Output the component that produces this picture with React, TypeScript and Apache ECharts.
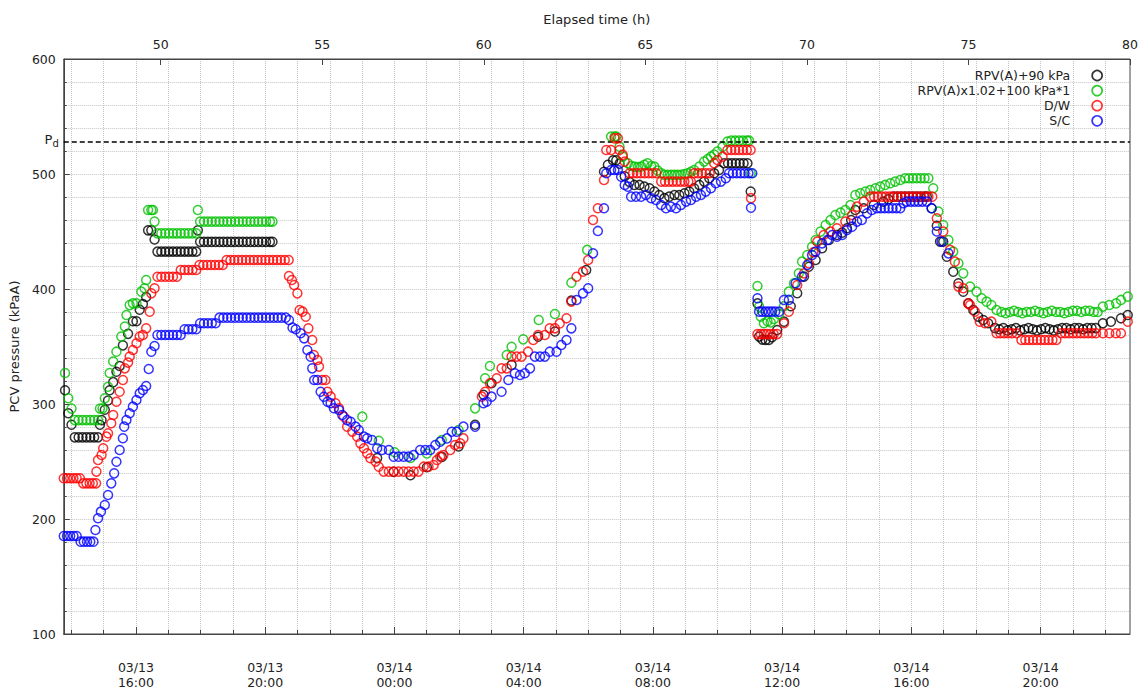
import React, { useEffect, useRef } from "react";
import * as echarts from "echarts";

// ---------- axis / label data ----------
const elapsedTicks = [50, 55, 60, 65, 70, 75, 80];
// clock hours counted from 03/13 00:00; elapsed 0 h = 03/11 14:46
const clockOffset = 33.2333;
const clockMajor = [16, 20, 24, 28, 32, 36, 40, 44];
const clockMinor = [14, 15, 16, 17, 18, 19, 20, 21, 22, 23, 24, 25, 26, 27, 28, 29, 30, 31, 32, 33, 34, 35, 36, 37, 38, 39, 40, 41, 42, 43, 44, 45, 46];
const clockDates = ["03/13", "03/13", "03/14", "03/14", "03/14", "03/14", "03/14", "03/14"];
const clockTimes = ["16:00", "20:00", "00:00", "04:00", "08:00", "12:00", "16:00", "20:00"];
const designPressure = 528;

const seriesNames = ["RPV(A)+90 kPa", "RPV(A)x1.02+100 kPa*1", "D/W", "S/C"];
const seriesColors = ["#000000", "#00c000", "#ff0000", "#0000ff"];

// ---------- series values: [elapsed h, kPaA] ----------
const rpvPlus90: number[][] = [
  [47.04, 312], [47.14, 292], [47.24, 282],
  [47.34, 271], [47.46, 271], [47.58, 271], [47.7, 271], [47.82, 271], [47.94, 271], [48.06, 271],
  [48.12, 282], [48.17, 286], [48.27, 295], [48.37, 303], [48.42, 312], [48.53, 319], [48.63, 328], [48.73, 333],
  [48.83, 351], [48.99, 361], [49.14, 372], [49.25, 372], [49.35, 382], [49.45, 387], [49.55, 393],
  [49.61, 451], [49.71, 451], [49.81, 443],
  [49.9, 432.5], [50.02, 432.5], [50.14, 432.5], [50.26, 432.5], [50.38, 432.5], [50.5, 432.5], [50.62, 432.5],
  [50.74, 432.5], [50.86, 432.5], [50.98, 432.5], [51.1, 432.5],
  [51.15, 451],
  [51.22, 441], [51.34, 441], [51.46, 441], [51.58, 441], [51.7, 441], [51.82, 441], [51.94, 441], [52.06, 441],
  [52.18, 441], [52.3, 441], [52.42, 441], [52.54, 441], [52.66, 441], [52.78, 441], [52.9, 441], [53.02, 441],
  [53.14, 441], [53.26, 441], [53.38, 441], [53.46, 441],
  [56.7, 253], [57.21, 241], [57.73, 238], [58.24, 245], [58.7, 254], [59.22, 263], [59.73, 282], [59.99, 308],
  [60.24, 318], [60.86, 334], [61.68, 358.5], [62.2, 363], [62.71, 390], [63.17, 416.5],
  [63.72, 502], [63.84, 508], [64.0, 512], [64.1, 512], [64.2, 509], [64.36, 498], [64.51, 493], [64.66, 490.5],
  [64.82, 490.5], [64.97, 489], [65.13, 487.6], [65.28, 484.7], [65.43, 481.8], [65.59, 479], [65.74, 480.3],
  [65.9, 481.8], [66.05, 481.8], [66.21, 483.2], [66.36, 484.7], [66.51, 487.6], [66.67, 490.5], [66.82, 493.4],
  [66.98, 496.3], [67.13, 500.6], [67.28, 503.5], [67.44, 509.3], [67.56, 509.3], [67.68, 509.3], [67.8, 509.3],
  [67.92, 509.3], [68.04, 509.3], [68.16, 509.3], [68.26, 484.7],
  [68.47, 387.5], [68.52, 358.6], [68.62, 356], [68.72, 355.7], [68.82, 355.7], [68.92, 358], [69.08, 364.4],
  [69.29, 371.6], [69.5, 385], [69.7, 396.3], [69.91, 410.8], [70.06, 419.4], [70.27, 425.2], [70.47, 435.4],
  [70.68, 442.6], [70.93, 447], [71.09, 449], [71.24, 452.8], [71.37, 460], [71.5, 468.7], [71.76, 470.2],
  [72.07, 473.1], [72.37, 476], [72.52, 478], [72.68, 480.3], [72.8, 480.3], [72.92, 480.3], [73.04, 480.3],
  [73.16, 480.3], [73.28, 480.3], [73.4, 480.3], [73.52, 480.3], [73.64, 480.3], [73.71, 480.3], [73.86, 470.2],
  [74.02, 455], [74.12, 441.2], [74.22, 441.2], [74.33, 428.1], [74.53, 415.1], [74.69, 405], [74.84, 397.7],
  [75.0, 387.5], [75.15, 381.8], [75.3, 376], [75.46, 373.1], [75.61, 370.2],
  [75.82, 366], [75.95, 365], [76.08, 366], [76.21, 364], [76.34, 365], [76.47, 366], [76.6, 364], [76.73, 365],
  [76.86, 366], [76.99, 365], [77.12, 364], [77.25, 365], [77.38, 366], [77.51, 365], [77.64, 364], [77.77, 365],
  [77.9, 366], [78.03, 366], [78.16, 365], [78.29, 366], [78.42, 366], [78.55, 365], [78.68, 366], [78.81, 366],
  [78.94, 366], [79.16, 370.2], [79.41, 371.6], [79.72, 374.5], [79.93, 377.4],
];

const rpvScaled: number[][] = [
  [47.04, 327], [47.14, 305], [47.24, 296],
  [47.34, 286], [47.46, 286], [47.58, 286], [47.7, 286], [47.82, 286], [47.94, 286], [48.06, 286],
  [48.12, 296], [48.2, 296], [48.27, 305], [48.37, 315], [48.42, 327], [48.53, 337], [48.63, 345.5], [48.78, 358.6],
  [48.89, 367.3], [48.94, 377.4], [49.04, 386], [49.14, 387.5], [49.25, 387.5], [49.4, 397.7], [49.5, 400.6],
  [49.55, 407.8], [49.61, 468.7], [49.71, 468.7], [49.76, 468.7], [49.81, 458.6],
  [49.9, 448.4], [50.02, 448.4], [50.14, 448.4], [50.26, 448.4], [50.38, 448.4], [50.5, 448.4], [50.62, 448.4],
  [50.74, 448.4], [50.86, 448.4], [50.98, 448.4], [51.1, 448.4],
  [51.15, 468.7],
  [51.22, 458.6], [51.34, 458.6], [51.46, 458.6], [51.58, 458.6], [51.7, 458.6], [51.82, 458.6], [51.94, 458.6],
  [52.06, 458.6], [52.18, 458.6], [52.3, 458.6], [52.42, 458.6], [52.54, 458.6], [52.66, 458.6], [52.78, 458.6],
  [52.9, 458.6], [53.02, 458.6], [53.14, 458.6], [53.26, 458.6], [53.38, 458.6], [53.46, 458.6],
  [56.24, 289], [56.75, 268], [57.24, 258], [57.73, 253], [58.24, 257], [58.7, 268.7], [59.22, 277.4],
  [59.73, 296.2], [60.04, 322.3], [60.19, 333], [60.71, 342.6], [60.86, 349.8], [61.22, 356.2], [61.7, 373],
  [62.2, 378.3], [62.71, 405.5], [63.2, 434],
  [63.94, 532.5], [64.05, 532.5], [64.1, 532.5], [64.2, 523.8], [64.3, 515.1], [64.46, 509.3], [64.56, 507],
  [64.66, 506.4], [64.77, 506], [64.87, 506.4], [64.97, 508], [65.07, 509.3], [65.18, 507], [65.28, 506.4],
  [65.38, 503], [65.49, 500.6], [65.59, 499.2], [65.69, 499.2], [65.8, 499.2], [65.9, 499.2], [66.0, 499.2],
  [66.1, 499.2], [66.21, 500], [66.31, 500.6], [66.41, 502], [66.51, 503.5], [66.67, 506.4], [66.82, 510.8],
  [66.93, 513], [67.03, 515.1], [67.13, 517], [67.23, 519.5], [67.39, 523.8], [67.54, 528.2], [67.66, 529],
  [67.78, 529], [67.9, 529], [68.02, 529], [68.14, 529], [68.21, 529], [68.26, 500.6],
  [68.47, 402.6], [68.52, 384.7], [68.57, 376], [68.67, 370.2], [68.78, 372], [68.88, 371], [68.98, 374],
  [69.14, 378], [69.29, 385], [69.44, 397.7], [69.6, 404.9], [69.75, 413.6], [69.85, 423.8], [70.01, 429.6],
  [70.16, 436.8], [70.27, 442.6], [70.42, 449.9], [70.58, 455.7], [70.73, 460], [70.88, 464.4], [71.04, 466.4],
  [71.19, 468.7], [71.35, 473.1], [71.5, 481.8], [71.65, 483.2], [71.81, 484.7], [71.96, 486.1], [72.12, 487.6],
  [72.27, 489], [72.42, 490.5], [72.58, 491.9], [72.73, 493.4], [72.89, 494.8], [73.04, 496.3], [73.16, 496.3],
  [73.28, 496.3], [73.4, 496.3], [73.52, 496.3], [73.64, 496.3], [73.76, 496.3], [73.91, 487.6], [74.07, 467.3],
  [74.22, 455.7], [74.38, 442.6], [74.53, 432.5], [74.69, 422.3], [74.84, 413.6], [75.05, 402.1], [75.25, 397.7],
  [75.41, 391.9], [75.56, 389], [75.71, 386.1], [75.87, 381.8],
  [76.02, 380], [76.15, 379], [76.28, 380], [76.41, 381], [76.54, 380], [76.67, 379], [76.8, 380], [76.93, 380],
  [77.06, 381], [77.19, 380], [77.32, 379], [77.45, 380], [77.58, 381], [77.71, 380], [77.84, 380], [77.97, 379],
  [78.1, 380], [78.23, 381], [78.36, 381], [78.49, 380], [78.62, 381], [78.75, 381], [78.88, 380], [79.0, 380],
  [79.16, 384.7], [79.36, 386.1], [79.57, 387.5], [79.72, 390.5], [79.93, 393.4],
];

const drywell: number[][] = [
  [47.0, 235.4], [47.1, 235.4], [47.2, 235.4], [47.3, 235.4], [47.4, 235.4], [47.5, 235.4],
  [47.6, 231], [47.7, 231], [47.8, 231], [47.9, 231], [48.0, 231],
  [48.01, 241.2], [48.06, 251.3], [48.17, 255.7], [48.22, 261.5], [48.32, 271.6], [48.37, 274.5], [48.47, 283.2],
  [48.53, 290.4], [48.63, 302], [48.73, 310.7], [48.83, 320.9], [48.89, 331], [48.99, 336], [49.04, 341.2],
  [49.14, 347], [49.25, 352.8], [49.35, 358.6], [49.45, 360], [49.55, 365.8], [49.66, 380.3], [49.71, 396.2],
  [49.81, 400.6],
  [49.9, 410.7], [50.02, 410.7], [50.14, 410.7], [50.26, 410.7], [50.38, 410.7], [50.5, 410.7],
  [50.62, 416.5], [50.74, 416.5], [50.86, 416.5], [50.98, 416.5], [51.1, 416.5],
  [51.2, 420.9], [51.32, 420.9], [51.44, 420.9], [51.56, 420.9], [51.68, 420.9], [51.8, 420.9], [51.92, 420.9],
  [52.04, 425.2], [52.16, 425.2], [52.28, 425.2], [52.4, 425.2], [52.52, 425.2], [52.64, 425.2], [52.76, 425.2],
  [52.88, 425.2], [53.0, 425.2], [53.12, 425.2], [53.24, 425.2], [53.36, 425.2], [53.48, 425.2], [53.6, 425.2],
  [53.72, 425.2], [53.84, 425.2], [53.96, 425.2],
  [53.97, 411.3], [54.06, 407.8], [54.13, 403.5], [54.23, 396.2], [54.3, 381.7], [54.39, 380.3], [54.49, 375.9],
  [54.57, 365.8], [54.69, 355.7], [54.74, 342.6], [54.85, 338.3], [54.9, 332.5], [55.0, 320.9], [55.1, 320.9],
  [55.16, 310.7], [55.26, 306.4], [55.41, 300.6], [55.52, 296.2], [55.67, 289], [55.77, 280.3], [55.93, 276],
  [56.08, 271.6], [56.18, 265.8], [56.29, 261.5], [56.39, 257.1], [56.49, 252.8], [56.65, 249.9], [56.75, 245.5],
  [56.9, 241.2], [57.06, 241.2], [57.21, 241.2], [57.36, 241.2], [57.52, 241.2], [57.67, 241.2], [57.83, 241.2],
  [57.98, 241.2], [58.14, 245.5], [58.29, 245.5], [58.45, 247], [58.55, 251.3], [58.65, 254.2], [58.75, 255.6],
  [58.96, 260], [59.11, 264.3], [59.27, 265.8], [59.37, 270.1],
  [59.94, 306.4], [60.04, 310.7], [60.19, 318], [60.4, 322.3], [60.55, 331], [60.71, 331], [60.86, 341.2],
  [61.02, 341.2], [61.17, 341.2], [61.37, 345.5], [61.53, 355.6], [61.68, 360], [61.89, 360], [62.04, 365.8],
  [62.2, 365.8], [62.35, 370.1], [62.56, 374.5], [62.71, 389], [62.87, 410.7], [63.07, 415.1], [63.23, 425.2],
  [63.38, 460], [63.53, 470.2], [63.72, 494.8], [63.79, 520.9], [63.94, 520.9], [64.05, 531], [64.15, 531],
  [64.2, 520.9], [64.3, 516.6], [64.36, 510.8], [64.51, 500.6],
  [64.62, 500.6], [64.74, 500.6], [64.86, 500.6], [64.98, 500.6], [65.1, 500.6], [65.22, 500.6], [65.34, 500.6],
  [65.49, 493.4], [65.61, 493.4], [65.73, 493.4], [65.85, 493.4], [65.97, 493.4], [66.09, 493.4], [66.21, 493.4],
  [66.33, 493.4], [66.41, 493.4],
  [66.51, 500.6], [66.63, 500.6], [66.75, 500.6], [66.87, 500.6], [66.99, 500.6], [67.13, 509.3], [67.23, 512.2],
  [67.39, 515.1], [67.54, 520.9], [67.66, 520.9], [67.78, 520.9], [67.9, 520.9], [68.02, 520.9], [68.14, 520.9],
  [68.26, 520.9], [68.27, 479],
  [68.47, 360.8], [68.57, 360.8], [68.67, 360.8], [68.77, 360.8], [68.87, 360.8], [68.97, 360.8], [69.08, 360.8],
  [69.29, 370.2], [69.44, 380.3], [69.7, 403.5], [69.91, 413.6], [70.06, 422.3], [70.2, 432], [70.32, 441.2],
  [70.52, 447], [70.73, 449.9], [70.93, 452.8], [71.19, 458.6], [71.4, 464.4], [71.55, 471.6], [71.76, 476],
  [71.96, 480.3], [72.08, 480.3], [72.2, 480.3], [72.32, 480.3], [72.44, 480.3], [72.56, 480.3], [72.68, 480.3],
  [72.8, 480.3], [72.92, 480.3], [73.04, 480.3], [73.16, 480.3], [73.28, 480.3], [73.4, 480.3], [73.52, 480.3],
  [73.64, 480.3], [73.76, 480.3], [73.88, 480.3],
  [74.02, 461.5], [74.22, 449.9], [74.43, 434], [74.58, 423.8], [74.69, 402.1], [74.84, 400.6], [74.99, 387.5],
  [75.05, 386.1], [75.2, 380.3], [75.35, 371.6], [75.51, 370.2], [75.71, 371.6],
  [75.87, 361.5], [75.99, 361.5], [76.11, 361.5], [76.23, 361.5], [76.35, 361.5], [76.49, 361.5],
  [76.64, 355.7], [76.76, 355.7], [76.88, 355.7], [77.0, 355.7], [77.12, 355.7], [77.24, 355.7], [77.36, 355.7],
  [77.48, 355.7], [77.6, 355.7], [77.72, 355.7],
  [77.87, 361.5], [77.99, 361.5], [78.11, 361.5], [78.23, 361.5], [78.35, 361.5], [78.47, 361.5], [78.59, 361.5],
  [78.71, 361.5], [78.83, 361.5], [78.95, 361.5], [79.16, 361.5], [79.36, 361.5], [79.56, 361.5], [79.72, 361.5],
  [79.93, 371.6],
];

const suppressionChamber: number[][] = [
  [47.0, 185.2], [47.1, 185.2], [47.2, 185.2], [47.3, 185.2], [47.4, 185.2],
  [47.52, 180.3], [47.62, 180.3], [47.72, 180.3], [47.82, 180.3], [47.92, 180.3],
  [47.98, 190.4], [48.06, 200.6], [48.15, 206.4], [48.27, 212.2], [48.37, 220.9], [48.47, 231], [48.56, 239.7],
  [48.63, 249.8], [48.73, 260], [48.83, 270.2], [48.87, 280.3], [48.94, 286.1], [49.04, 291.9], [49.14, 297.7],
  [49.25, 303.5], [49.35, 309.3], [49.45, 312.2], [49.55, 315.7], [49.63, 330.4], [49.71, 345.5], [49.81, 350.4],
  [49.9, 360], [50.02, 360], [50.14, 360], [50.26, 360], [50.38, 360], [50.5, 360], [50.62, 360],
  [50.74, 365], [50.86, 365], [50.98, 365], [51.1, 365],
  [51.22, 370.2], [51.34, 370.2], [51.46, 370.2], [51.58, 370.2], [51.7, 370.2],
  [51.82, 375.1], [51.94, 375.1], [52.06, 375.1], [52.18, 375.1], [52.3, 375.1], [52.42, 375.1], [52.54, 375.1],
  [52.66, 375.1], [52.78, 375.1], [52.9, 375.1], [53.02, 375.1], [53.14, 375.1], [53.26, 375.1], [53.38, 375.1],
  [53.5, 375.1], [53.62, 375.1], [53.74, 375.1], [53.87, 375.1],
  [53.97, 373], [54.08, 366.4], [54.18, 365], [54.33, 361.5], [54.44, 357.1], [54.54, 347], [54.64, 341.1],
  [54.69, 331], [54.75, 320.9], [54.85, 320.9], [54.95, 310.7], [55.05, 306.3], [55.16, 302], [55.26, 300.6],
  [55.36, 296.3], [55.52, 294.8], [55.62, 290.4], [55.77, 286], [55.88, 284.6], [56.03, 280.3], [56.13, 277.4],
  [56.29, 271.6], [56.39, 270.2], [56.54, 268.7], [56.7, 261.5], [56.85, 260], [57.06, 260], [57.21, 254.2],
  [57.36, 254.2], [57.52, 254.2], [57.67, 254.2], [57.83, 255.6], [58.03, 260], [58.19, 260], [58.34, 260],
  [58.5, 264.3], [58.65, 267.2], [58.86, 270.1], [59.01, 275.9], [59.16, 275.9], [59.37, 280.3], [59.73, 280.3],
  [59.99, 300.6], [60.09, 302], [60.24, 306.4], [60.55, 310.7], [60.76, 320.9], [60.96, 326.7], [61.12, 325.2],
  [61.27, 326.7], [61.43, 331], [61.58, 341.2], [61.74, 341.2], [61.89, 341.2], [62.04, 345.5], [62.25, 345.5],
  [62.4, 351.3], [62.56, 355.6], [62.71, 365.8], [62.87, 390.4], [63.07, 396.2], [63.23, 400.6], [63.38, 431],
  [63.53, 450.5], [63.72, 470.2], [63.79, 500.6], [63.94, 503.5], [64.04, 503.5], [64.15, 503.5], [64.25, 497.7],
  [64.36, 490.5], [64.46, 489], [64.56, 480.3], [64.71, 480.3], [64.87, 480.3], [65.02, 481.8], [65.18, 478.9],
  [65.33, 477.4], [65.49, 473.1], [65.64, 470.2], [65.79, 471.6], [65.95, 470.2], [66.1, 473.1], [66.26, 476],
  [66.41, 477.4], [66.57, 480.3], [66.72, 481.8], [66.87, 484.7], [67.03, 487.6], [67.18, 491.9], [67.34, 493.4],
  [67.49, 496.3],
  [67.59, 500.6], [67.71, 500.6], [67.83, 500.6], [67.95, 500.6], [68.07, 500.6], [68.19, 500.6], [68.31, 500.6],
  [68.27, 470.7],
  [68.47, 391.9], [68.52, 380.3], [68.62, 380.3], [68.72, 380.3], [68.82, 380.3], [68.92, 380.3], [69.02, 380.3],
  [69.14, 380.3], [69.29, 390.5], [69.44, 390.5], [69.65, 405], [69.85, 410.8], [70.01, 420.9], [70.16, 429.6],
  [70.27, 432.5], [70.47, 439.7], [70.63, 442.6], [70.78, 447], [70.93, 445.5], [71.09, 447], [71.24, 451.3],
  [71.4, 454.2], [71.55, 458.6], [71.7, 460], [71.86, 465.8], [72.01, 468.7],
  [72.17, 470.2], [72.29, 470.2], [72.41, 470.2], [72.53, 470.2], [72.65, 470.2], [72.77, 470.2], [72.89, 470.2],
  [72.99, 474.5], [73.09, 476], [73.21, 476], [73.33, 476], [73.45, 476], [73.57, 476], [73.71, 476],
  [73.86, 470.2], [74.02, 450], [74.17, 441.2], [74.38, 431],
];

const seriesData = [rpvPlus90, rpvScaled, drywell, suppressionChamber];

const FONT = "DejaVu Sans";
const TEXT = "#222";
const AXIS = "#444";
const GRIDC = "#c4c4c4";

export default function App() {
  const ref = useRef<HTMLDivElement>(null);

  useEffect(() => {
    if (!ref.current) return;
    const chart = echarts.init(ref.current, null, { renderer: "svg" });
    const clockMin = 47 - clockOffset;
    const clockMax = 80 - clockOffset;

    const series: any[] = seriesNames.map((name, i) => ({
      type: "scatter",
      name,
      data: seriesData[i],
      xAxisIndex: 0,
      yAxisIndex: 0,
      symbol: "circle",
      symbolSize: 9,
      silent: true,
      itemStyle: { color: "rgba(0,0,0,0)", borderColor: seriesColors[i], borderWidth: 1.5 },
      emphasis: { disabled: true },
      z: 3 + i,
    }));
    series[0].markLine = {
      silent: true,
      symbol: ["none", "none"],
      data: [{ yAxis: designPressure }],
      lineStyle: { color: "#000", type: [5, 3], width: 1.5 },
      label: {
        position: "start",
        distance: 5,
        formatter: "{p|P}{d|d}",
        rich: {
          p: { fontSize: 13, fontFamily: FONT, color: TEXT, padding: [0, 0, 4, 0] },
          d: { fontSize: 10, fontFamily: FONT, color: TEXT, padding: [4, 0, 0, 0] },
        },
      },
    };

    chart.setOption({
      animation: false,
      backgroundColor: "#fff",
      textStyle: { fontFamily: FONT },
      grid: { left: 60, right: 12, top: 59, bottom: 59, show: true, borderColor: AXIS, borderWidth: 1, containLabel: false },
      legend: {
        orient: "vertical",
        right: 39,
        top: 69,
        padding: 0,
        align: "right",
        itemWidth: 44,
        itemHeight: 10,
        itemGap: 2.1,
        selectedMode: false,
        textStyle: { fontSize: 12.5, color: TEXT, fontFamily: FONT },
        data: seriesNames.map((name, i) => ({
          name,
          icon: "circle",
          itemStyle: { color: "rgba(0,0,0,0)", borderColor: seriesColors[i], borderWidth: 1.7 },
        })),
      },
      xAxis: [
        {
          type: "value",
          position: "top",
          min: 47,
          max: 80,
          name: "Elapsed time (h)",
          nameLocation: "middle",
          nameGap: 33,
          nameTextStyle: { fontSize: 13, color: TEXT, fontFamily: FONT },
          axisLine: { show: true, lineStyle: { color: AXIS } },
          axisTick: { show: true, inside: true, length: 6, customValues: elapsedTicks, lineStyle: { color: AXIS } },
          axisLabel: { customValues: elapsedTicks, fontSize: 12.5, color: TEXT, margin: 8, fontFamily: FONT },
          splitLine: { show: false },
        },
        {
          type: "value",
          position: "bottom",
          min: clockMin,
          max: clockMax,
          axisLine: { show: true, lineStyle: { color: AXIS } },
          axisTick: { show: true, inside: true, length: 4, customValues: clockMinor, lineStyle: { color: AXIS } },
          axisLabel: {
            customValues: clockMajor,
            fontSize: 12.5,
            color: TEXT,
            fontFamily: FONT,
            lineHeight: 15,
            margin: 26,
            formatter: (v: number) => {
              const i = clockMajor.findIndex((m) => Math.abs(m - v) < 1e-6);
              return i < 0 ? "" : clockDates[i] + "\n" + clockTimes[i];
            },
          },
          splitLine: { show: true, lineStyle: { color: GRIDC, type: "dotted", width: 1 } },
        },
        {
          type: "value",
          position: "bottom",
          min: clockMin,
          max: clockMax,
          axisLine: { show: false },
          axisTick: { show: true, inside: true, length: 7, customValues: clockMajor, lineStyle: { color: AXIS } },
          axisLabel: { show: false },
          splitLine: { show: false },
        },
      ],
      yAxis: {
        type: "value",
        min: 100,
        max: 600,
        interval: 100,
        name: "PCV pressure (kPaA)",
        nameLocation: "middle",
        nameGap: 35,
        nameTextStyle: { fontSize: 13, color: TEXT, fontFamily: FONT },
        axisLine: { show: true, lineStyle: { color: AXIS } },
        axisTick: { show: true, inside: true, length: 6, lineStyle: { color: AXIS } },
        minorTick: { show: true, splitNumber: 5, length: 3, lineStyle: { color: AXIS } },
        axisLabel: { fontSize: 12.5, color: TEXT, margin: 8, fontFamily: FONT },
        splitLine: { show: true, lineStyle: { color: GRIDC, type: "dotted", width: 1 } },
        minorSplitLine: { show: true, lineStyle: { color: GRIDC, type: "dotted", width: 1 } },
      },
      series,
    });
    return () => chart.dispose();
  }, []);

  return (
    <div
      ref={ref}
      style={{ position: "absolute", left: 0, top: 0, width: 1142, height: 693, background: "#fff" }}
    />
  );
}
